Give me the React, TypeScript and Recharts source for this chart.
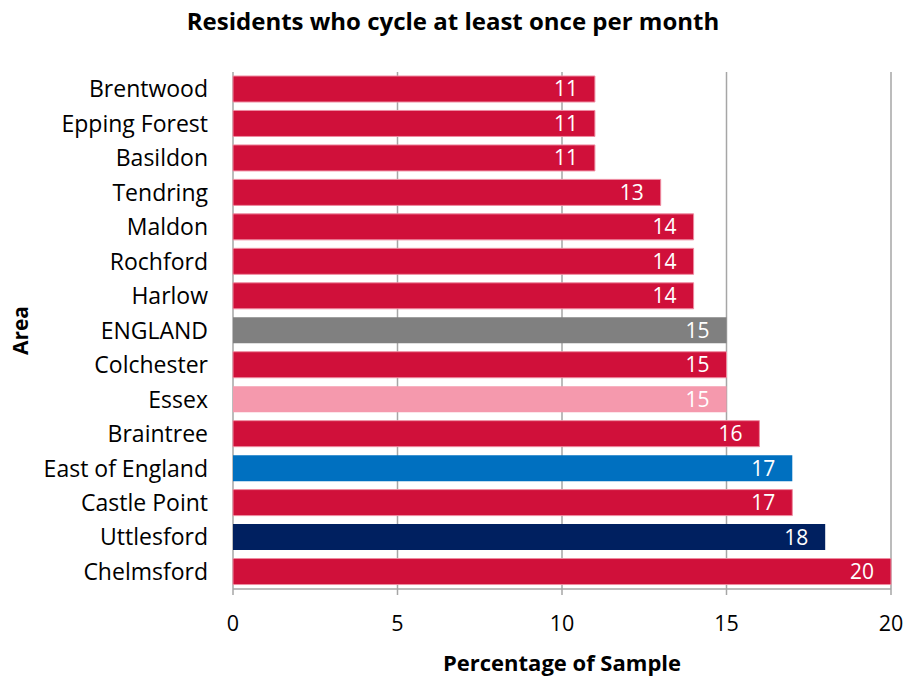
import { Bar, BarChart, CartesianGrid, Cell, LabelList, XAxis, YAxis } from 'recharts'

const AREAS = [
  'Brentwood',
  'Epping Forest',
  'Basildon',
  'Tendring',
  'Maldon',
  'Rochford',
  'Harlow',
  'ENGLAND',
  'Colchester',
  'Essex',
  'Braintree',
  'East of England',
  'Castle Point',
  'Uttlesford',
  'Chelmsford',
]
const PERCENT = [11, 11, 11, 13, 14, 14, 14, 15, 15, 15, 16, 17, 17, 18, 20]
const X_TICKS = [0, 5, 10, 15, 20]
// helper axis: tick marks sit on the category boundaries, like the original
const BOUNDARY_TICKS = [0, 1, 2, 3, 4, 5, 6, 7, 8, 9, 10, 11, 12, 13, 14, 15]

const RED = '#D0103A'
const AREA_COLORS: Record<string, string> = {
  ENGLAND: '#808080',
  Essex: '#F599AD',
  'East of England': '#0070C0',
  Uttlesford: '#002060',
}

const FONT = '"Open Sans", sans-serif'
const AXIS_GRAY = '#A6A6A6'

const data = AREAS.map((name, i) => ({ name, value: PERCENT[i] }))

function AreaLabel({ viewBox }: any) {
  const { x, y, height } = viewBox
  const cx = x + 20
  const cy = y + height / 2
  return (
    <text
      x={cx}
      y={cy}
      transform={`rotate(-90 ${cx} ${cy})`}
      textAnchor="middle"
      dominantBaseline="central"
      fontFamily={FONT}
      fontWeight={700}
      fontSize={21}
      fill="#000"
    >
      Area
    </text>
  )
}

export default function App() {
  return (
    <div style={{ position: 'absolute', left: 0, top: 0, width: 906, height: 679, background: '#fff', fontFamily: FONT }}>
      <div
        style={{
          position: 'absolute',
          top: 4,
          left: 0,
          width: 906,
          textAlign: 'center',
          fontWeight: 700,
          fontSize: 24,
          lineHeight: '34px',
          color: '#000',
        }}
      >
        Residents who cycle at least once per month
      </div>
      <BarChart
        width={906}
        height={679}
        data={data}
        layout="vertical"
        margin={{ top: 72, right: 15, left: 0, bottom: 0 }}
        style={{ fontFamily: FONT }}
      >
        <CartesianGrid horizontal={false} stroke={AXIS_GRAY} strokeWidth={1.5} />
        <XAxis
          type="number"
          domain={[0, 20]}
          ticks={X_TICKS}
          height={90}
          stroke={AXIS_GRAY}
          strokeWidth={1.5}
          tickSize={6}
          tickMargin={21}
          tick={{ fill: '#000', fontSize: 21.5, fontFamily: FONT }}
          label={{
            value: 'Percentage of Sample',
            position: 'insideBottom',
            offset: 8,
            fill: '#000',
            fontSize: 22,
            fontWeight: 700,
            fontFamily: FONT,
          }}
        />
        <YAxis
          yAxisId="bounds"
          type="number"
          domain={[0, 15]}
          ticks={BOUNDARY_TICKS}
          width={0}
          stroke={AXIS_GRAY}
          strokeWidth={1.5}
          tickSize={6}
          tick={false}
        />
        <YAxis
          yAxisId="cat"
          type="category"
          dataKey="name"
          width={233}
          axisLine={false}
          tickLine={false}
          tickMargin={19}
          interval={0}
          tick={{ fill: '#000', fontSize: 23, fontFamily: FONT }}
          label={<AreaLabel />}
        />
        <Bar yAxisId="cat" dataKey="value" barSize={26} isAnimationActive={false}>
          {data.map((d) => (
            <Cell key={d.name} fill={AREA_COLORS[d.name] ?? RED} stroke={AREA_COLORS[d.name] ? 'none' : '#EE8CA1'} strokeWidth={1} />
          ))}
          <LabelList dataKey="value" position="insideRight" offset={17} fill="#fff" fontSize={21} fontFamily={FONT} />
        </Bar>
      </BarChart>
    </div>
  )
}
